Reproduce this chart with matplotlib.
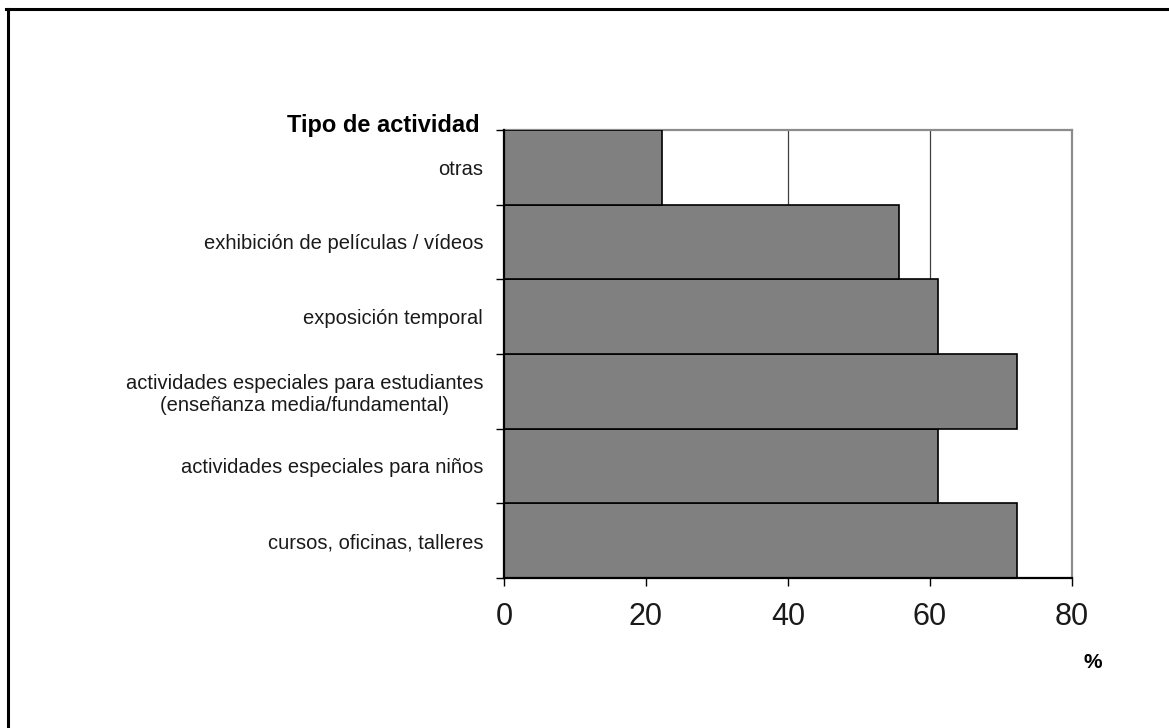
import numpy as np
import matplotlib
matplotlib.use("Agg")
import matplotlib.pyplot as plt
from matplotlib.lines import Line2D

plt.rcParams['font.family'] = ['Liberation Sans', 'DejaVu Sans']

# bottom to top
actividades = ["cursos, oficinas, talleres",
               "actividades especiales para niños",
               "actividades especiales para estudiantes\n(enseñanza media/fundamental)",
               "exposición temporal",
               "exhibición de películas / vídeos",
               "otras"]
porcentaje = [72.2, 61.1, 72.2, 61.1, 55.6, 22.2]
xticks = [0, 20, 40, 60, 80]

fig = plt.figure(figsize=(11.69, 7.28), dpi=100)
ax = fig.add_axes([504 / 1169, 1 - 578 / 728, 568 / 1169, 448 / 728])

y = np.arange(len(actividades))
ax.barh(y, porcentaje, height=1.0, color="#808080", edgecolor="black",
        linewidth=1.2, zorder=3)

ax.set_xlim(0, 80)
ax.set_ylim(-0.5, len(actividades) - 0.5)

# vertical grid lines
for gx in [20, 40, 60]:
    ax.axvline(gx, color="#404040", linewidth=0.9, zorder=1)

ax.set_xticks(xticks)
ax.set_xticklabels([str(v) for v in xticks])
ax.tick_params(axis='x', direction='out', length=6, width=1.0, pad=11,
               labelsize=22, colors='black', labelcolor='#1a1a1a')

# tick marks at the category boundaries, labels at the centres
ax.set_yticks(np.arange(-0.5, len(actividades), 1.0))
ax.set_yticklabels([])
ax.set_yticks(y, minor=True)
ax.set_yticklabels(actividades, minor=True, fontsize=14.5, color='#1a1a1a',
                   multialignment='center', linespacing=1.15)
ax.tick_params(axis='y', which='major', direction='out', length=6, width=1.0)
ax.tick_params(axis='y', which='minor', length=0, pad=15)

for side in ['left', 'bottom']:
    ax.spines[side].set_color('black')
    ax.spines[side].set_linewidth(1.6)
    ax.spines[side].set_zorder(4)
for side in ['top', 'right']:
    ax.spines[side].set_color('#8c8c8c')
    ax.spines[side].set_linewidth(1.6)

fig.text(480 / 1169, 1 - 132 / 728, "Tipo de actividad", ha='right',
         va='baseline', fontsize=17, fontweight='bold')
fig.text(1093 / 1169, 1 - 662 / 728, "%", ha='center', va='center',
         fontsize=15, fontweight='bold')

# frame along the top and left edges
fig.add_artist(Line2D([7.5 / 1169, 7.5 / 1169], [0, 1 - 8.5 / 728],
                      color='black', linewidth=2.2))
fig.add_artist(Line2D([6 / 1169, 1], [1 - 8.5 / 728, 1 - 8.5 / 728],
                      color='black', linewidth=2.2))

fig.savefig("out.png", dpi=100)
